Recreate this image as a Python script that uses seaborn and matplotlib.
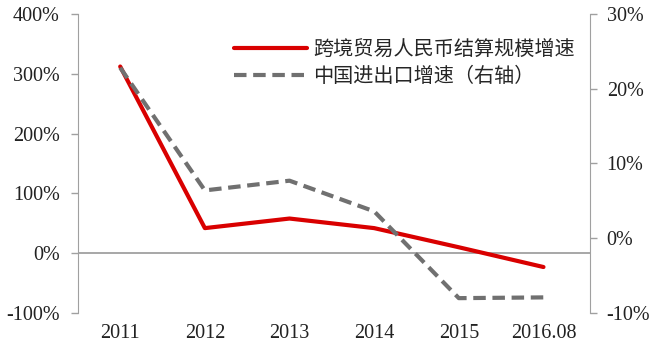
import pandas as pd
import matplotlib.pyplot as plt
import seaborn as sns

# data
years = ['2011', '2012', '2013', '2014', '2015', '2016.08']
rmb_growth = [312, 42, 58, 42, 10, -23]          # left axis, %
trade_growth = [22.8, 6.4, 7.7, 3.6, -8.0, -7.9]  # right axis, %
left_ticks = [-100, 0, 100, 200, 300, 400]
right_ticks = [-10, 0, 10, 20, 30]
rmb_label = '跨境贸易人民币结算规模增速'
trade_label = '中国进出口增速（右轴）'

df = pd.DataFrame({'year': years, 'rmb': rmb_growth, 'trade': trade_growth})

sns.set_style('white')
plt.rcParams['font.family'] = ['Liberation Serif', 'Noto Sans CJK SC']
plt.rcParams['axes.unicode_minus'] = False

red = '#d90000'
gray = '#707070'
spine_gray = '#a0a0a0'

fig, ax = plt.subplots(figsize=(6.6, 3.55), dpi=100)
fig.subplots_adjust(left=0.118, right=0.894, top=0.961, bottom=0.118)
ax2 = ax.twinx()

sns.lineplot(data=df, x='year', y='rmb', ax=ax, color=red, lw=3, label=rmb_label, sort=False)
sns.lineplot(data=df, x='year', y='trade', ax=ax2, color=gray, lw=3, label=trade_label,
             sort=False, dashes=False)
ax2.lines[0].set_dashes([3, 1.6])

ax.axhline(0, color=spine_gray, lw=1.3, zorder=1)

ax.set_xlim(-0.5, 5.55)
ax.set_ylim(-100, 400)
ax2.set_ylim(-10, 30)
ax.set_yticks(left_ticks)
ax.set_yticklabels([f'{t}%' for t in left_ticks])
ax2.set_yticks(right_ticks)
ax2.set_yticklabels([f'{t}%' for t in right_ticks])

for a in (ax, ax2):
    for s in ('top', 'bottom'):
        a.spines[s].set_visible(False)
    a.set_xlabel('')
    a.set_ylabel('')
    a.grid(False)
ax.spines['right'].set_visible(False)
ax2.spines['left'].set_visible(False)
ax.spines['left'].set_color(spine_gray)
ax2.spines['right'].set_color(spine_gray)

ax.tick_params(axis='y', left=True, direction='out', length=5, width=1, color=spine_gray,
               pad=8, labelsize=14.5, labelcolor='#222222')
ax2.tick_params(axis='y', right=True, direction='out', length=5, width=1, color=spine_gray,
                pad=7, labelsize=14.5, labelcolor='#222222')
ax.tick_params(axis='x', length=0, pad=8, labelsize=14.5, labelcolor='#222222')

h1, l1 = ax.get_legend_handles_labels()
h2, l2 = ax2.get_legend_handles_labels()
ax.get_legend().remove()
ax2.get_legend().remove()
ax2.legend(h1 + h2, l1 + l2, loc='upper left', bbox_to_anchor=(0.27, 0.975), frameon=False,
           handlelength=3.6, handletextpad=0.3, labelspacing=0.3,
           prop={'family': ['Noto Sans CJK SC'], 'size': 14.5})

fig.savefig('out.png', dpi=100)
